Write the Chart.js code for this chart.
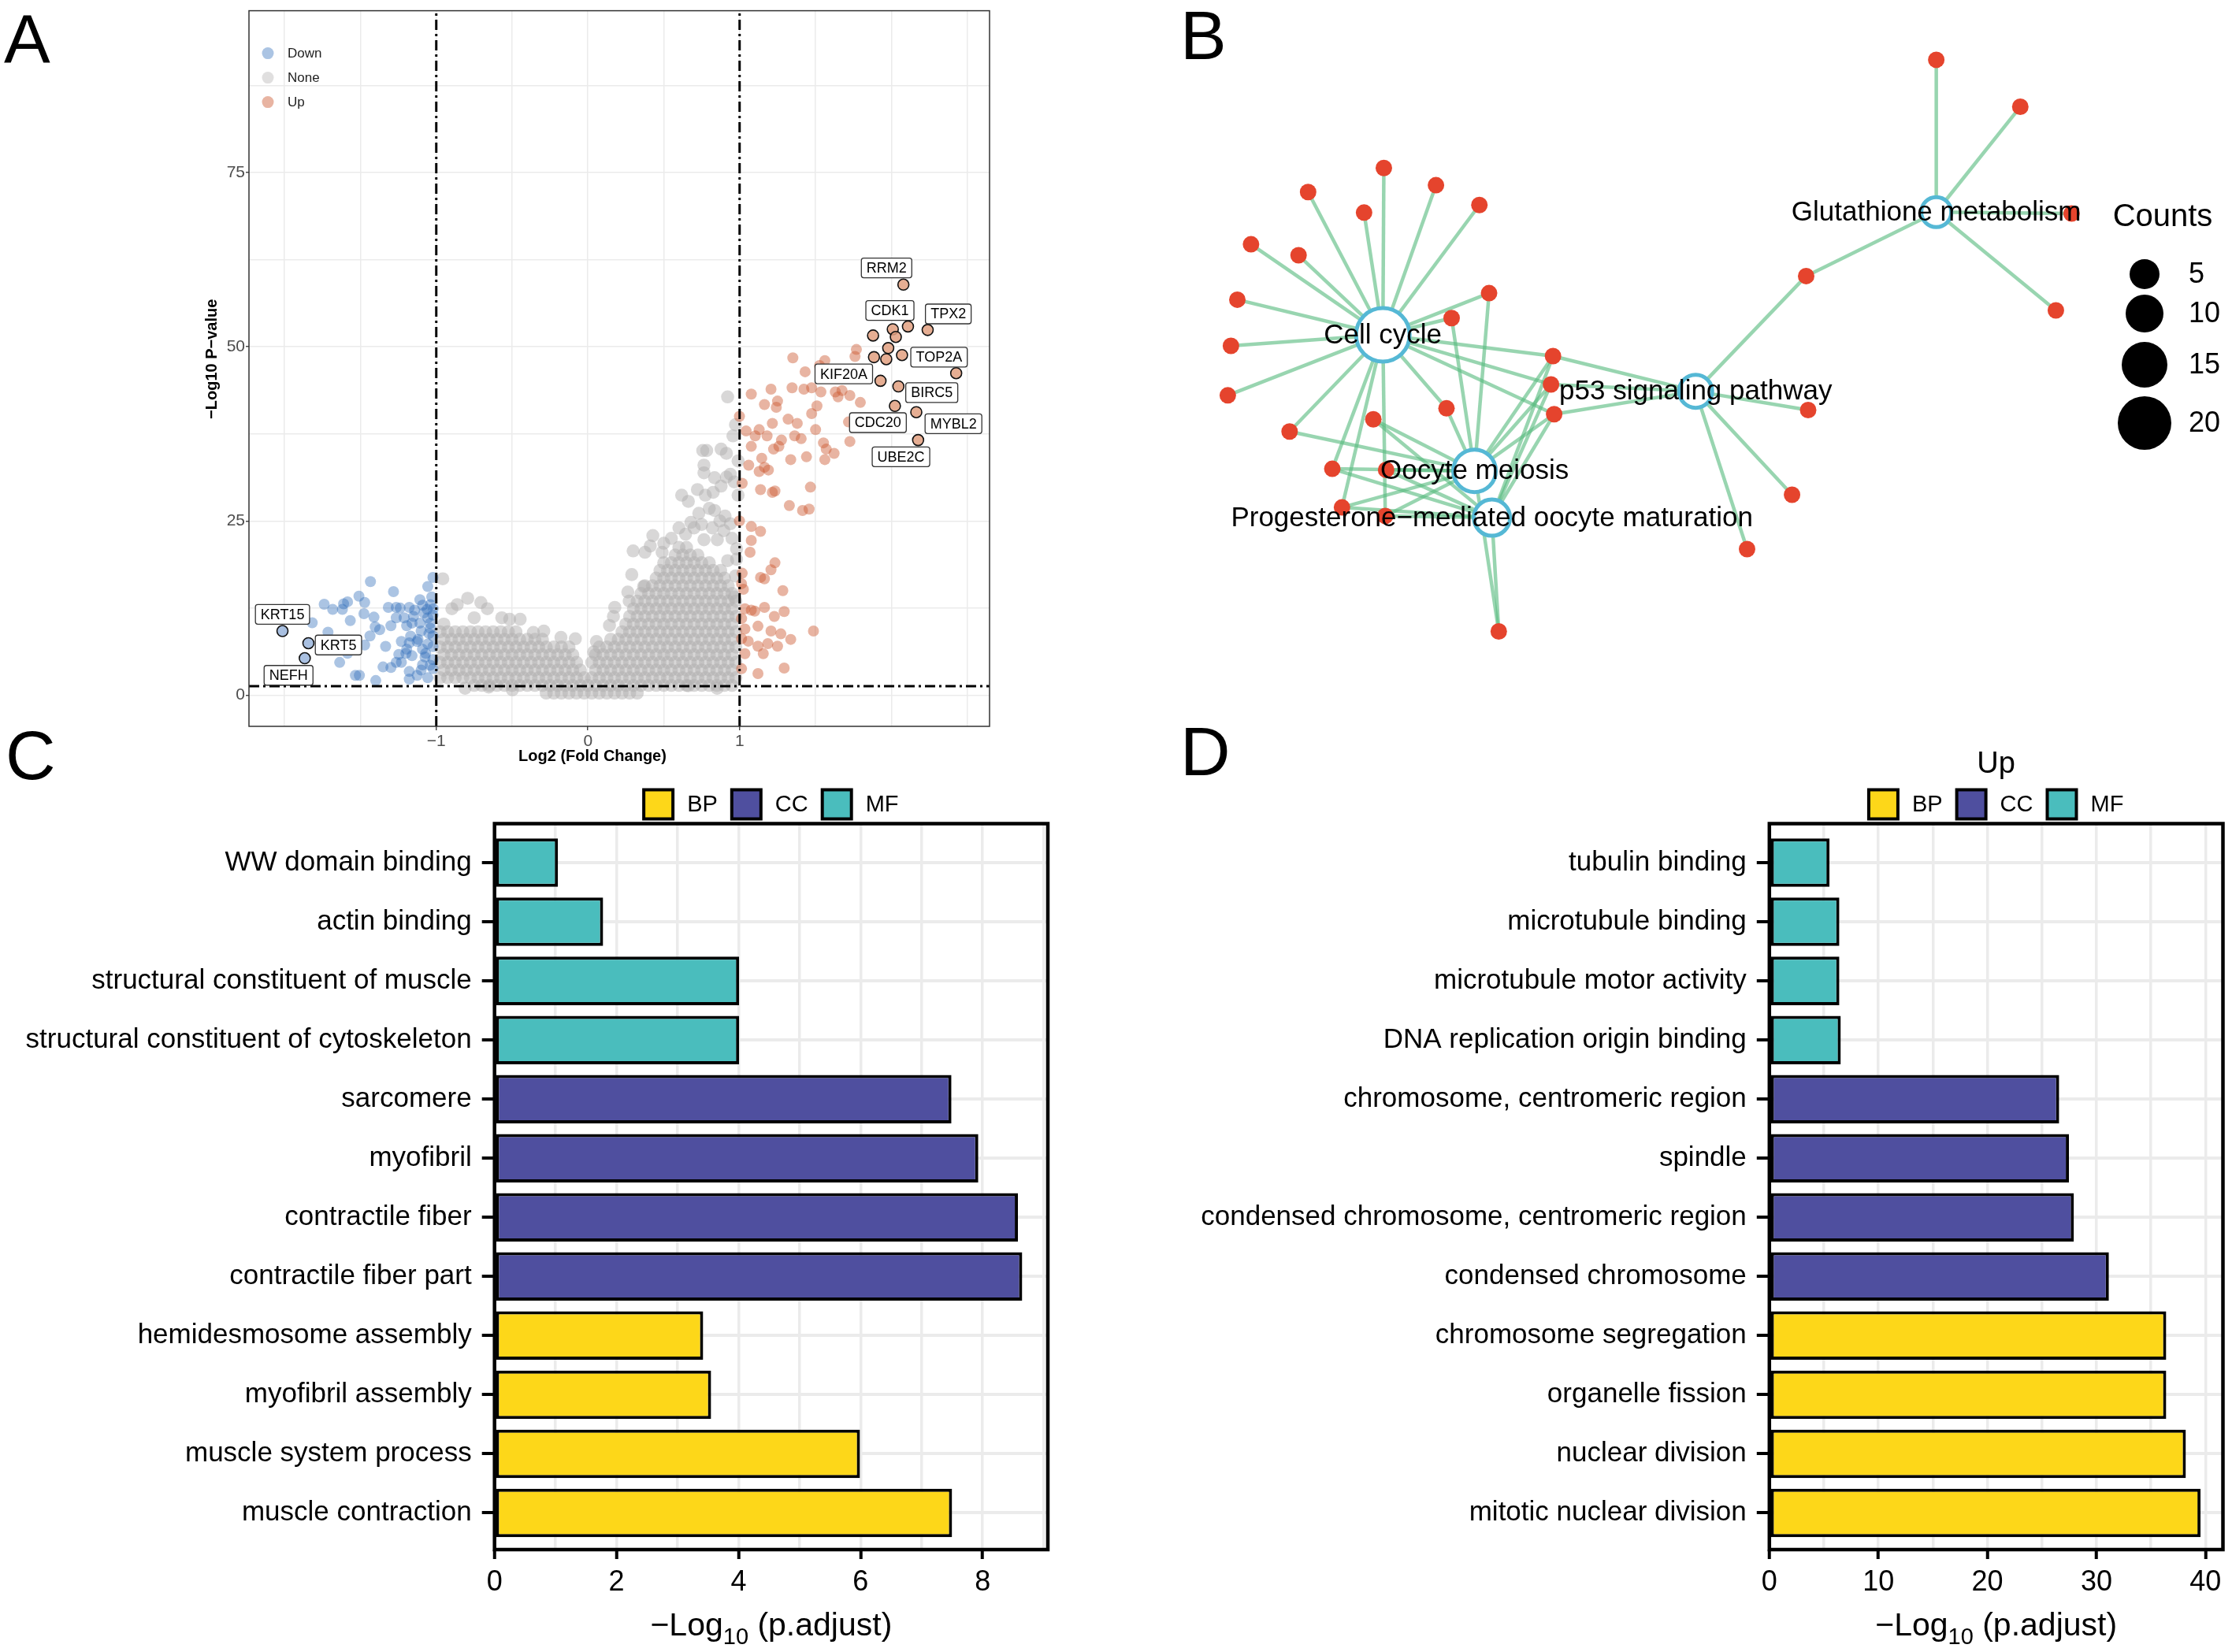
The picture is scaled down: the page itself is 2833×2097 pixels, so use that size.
<!DOCTYPE html>
<html lang="en">
<head>
<meta charset="UTF-8">
<title>Volcano plot, KEGG network and GO enrichment</title>
<script src="https://cdn.jsdelivr.net/npm/chart.js@4.4.0/dist/chart.umd.min.js"></script>
<style>
  html, body { margin: 0; padding: 0; background: #fff; }
  body { position: relative; width: 2833px; height: 2097px; overflow: hidden; font-family: "Liberation Sans", Arial, sans-serif; }
  .panel { position: absolute; }
  .tag { position: absolute; font-size: 88px; line-height: 1; color: #000; z-index: 2; }
</style>
</head>
<body>
<div class="tag" style="left:5px;top:6px">A</div>
<div class="tag" style="left:1498px;top:1px">B</div>
<div class="tag" style="left:7px;top:915px">C</div>
<div class="tag" style="left:1498px;top:910px">D</div>

<div class="panel" style="left:230px;top:0;width:1050px;height:1000px"><canvas id="volcano"></canvas></div>
<div class="panel" style="left:1500px;top:0;width:1333px;height:900px"><canvas id="network"></canvas></div>
<div class="panel" style="left:0;top:940px;width:1345px;height:1157px"><canvas id="goDown"></canvas></div>
<div class="panel" style="left:1500px;top:940px;width:1333px;height:1157px"><canvas id="goUp"></canvas></div>

<script>
// ---------- A: volcano (x = log2 fold change, y = -log10 p) ----------
const fcCut = 1;
const pCut = 1.3;

const upTopGenes = [[2.08,58.9],[2.11,52.9],[2.01,52.5],[2.24,52.4],[1.88,51.6],[2.03,51.4],[1.98,49.8],
  [1.886,48.5],[1.967,48.2],[2.071,48.8],[2.428,46.2],[1.929,45.1],[2.047,44.3],[2.024,41.5],[2.165,40.6],[2.177,36.6]];
const downTopGenes = [[-2.014,9.2],[-1.843,7.46],[-1.867,5.3]];

const upGenes = [[1.351,48.4],[1.770,49.6],[1.761,48.6],[1.432,46.4],[1.562,48.0],[1.527,47.3],[1.207,43.9],[1.077,43.2],
  [1.346,44.1],[1.424,43.9],[1.475,44.1],[1.536,43.5],[1.631,43.5],[1.675,43.7],[1.727,43.0],[1.796,42.0],[1.649,42.8],
  [1.164,41.7],[1.250,42.2],[1.242,41.3],[1.510,41.5],[1.475,40.4],[1.320,39.6],[1.380,39.0],[1.216,39.0],[1.129,38.1],
  [1.043,37.9],[0.999,40.0],[1.103,37.2],[1.181,37.2],[1.276,36.6],[1.363,37.2],[1.406,36.8],[1.501,38.1],[1.718,39.2],
  [1.727,36.4],[1.077,35.7],[1.146,34.0],[1.224,35.3],[1.259,35.7],[1.553,36.2],[1.571,35.3],[1.623,34.7],[1.562,33.8],
  [1.337,33.8],[1.441,34.2],[1.060,33.0],[1.164,32.7],[1.190,32.3],[1.129,32.1],[1.017,30.4],[1.138,29.5],[1.216,29.1],
  [1.233,29.3],[1.467,29.85],[1.328,27.2],[1.415,26.5],[1.458,26.7],[0.999,25.0],[1.077,24.2],[1.138,23.5],[1.077,22.2],
  [1.069,20.5],[1.233,19.0],[1.207,18.0],[1.138,16.9],[1.164,16.7],[1.285,15.0],[1.017,17.5],[1.025,15.2],[1.077,12.2],
  [1.164,12.6],[1.294,12.0],[1.035,12.4],[1.100,12.05],[1.229,11.3],[1.035,9.5],[1.121,9.9],[1.207,9.2],[1.272,8.8],
  [1.337,8.0],[1.057,7.75],[1.121,7.03],[1.186,7.4],[1.25,7.03],[1.035,5.95],[1.156,5.95],[1.013,3.8],[1.121,3.1],
  [1.294,3.9],[1.487,9.2],[1.013,8.1],[1.013,11.0],[1.013,16.0]];

const downGenes = [[-1.434,16.3],[-1.818,10.4],[-1.739,13.05],[-1.683,12.3],[-1.611,13.1],[-1.585,13.4],[-1.619,12.3],
  [-1.510,14.2],[-1.472,13.3],[-1.567,10.7],[-1.714,9.04],[-1.477,11.7],[-1.411,11.2],[-1.403,9.8],[-1.437,8.5],
  [-1.373,9.4],[-1.334,7.0],[-1.472,7.2],[-1.541,6.6],[-1.585,6.0],[-1.637,4.7],[-1.533,2.85],[-1.507,2.85],[-1.399,2.1],
  [-1.351,4.05],[-1.282,14.85],[-1.264,12.6],[-1.316,12.6],[-1.238,12.5],[-1.264,11.1],[-1.299,9.97],[-1.212,11.1],
  [-1.178,12.6],[-1.143,12.2],[-1.108,13.7],[-1.082,11.8],[-1.056,15.6],[-1.022,16.9],[-1.030,14.1],[-1.039,13.0],
  [-1.195,9.97],[-1.160,10.35],[-1.108,10.35],[-1.056,11.1],[-1.022,11.5],[-1.100,9.2],[-1.039,9.6],[-1.022,8.5],
  [-1.230,7.7],[-1.178,7.5],[-1.126,7.7],[-1.195,6.6],[-1.247,5.85],[-1.264,4.72],[-1.230,4.72],[-1.160,5.66],
  [-1.091,6.6],[-1.056,7.35],[-1.022,6.97],[-1.074,5.47],[-1.091,4.35],[-1.022,5.1],[-1.178,3.4],[-1.126,2.85],
  [-1.178,2.3],[-1.056,2.5],[-1.022,3.8],[-1.299,3.97],[-1.048,8.85],[-1.169,8.47],[-1.06,12.3],[-1.12,8.0],
  [-1.04,10.3],[-1.09,12.9],[-1.15,11.3],[-1.02,12.4],[-1.07,6.0],[-1.04,4.3],[-1.10,3.6],[-1.2,6.0]];

// the dense grey cloud
const noneRowY = [0.3, 1.4, 2.5, 3.6, 4.7, 5.8, 6.9, 8.0, 9.1, 10.2, 11.3, 12.4, 13.5, 14.6, 15.7, 16.8, 17.9, 19.0, 20.1, 21.2];
const noneRowX = [
  [-.275,-.225,-.175,-.125,-.075,-.025,.025,.075,.125,.175,.225,.275,.325],
  [-.75,-.7,-.65,-.6,-.55,-.5,-.45,-.4,-.35,-.3,-.25,-.2,-.15,-.1,-.05,0,.05,.1,.15,.2,.25,.3,.35,.4,.45,.5,.55,.6,.65,.7,.75,.8,.85,.9,.95],
  [-.975,-.925,-.875,-.825,-.775,-.725,-.675,-.625,-.575,-.525,-.475,-.425,-.375,-.325,-.275,-.225,-.175,-.125,-.075,-.025,.025,.075,.125,.175,.225,.275,.325,.375,.425,.475,.525,.575,.625,.675,.725,.775,.825,.875,.925,.975],
  [-.95,-.9,-.85,-.8,-.75,-.7,-.65,-.6,-.55,-.5,-.45,-.4,-.35,-.3,-.25,-.2,-.15,-.1,-.05,.05,.1,.15,.2,.25,.3,.35,.4,.45,.5,.55,.6,.65,.7,.75,.8,.85,.9,.95],
  [-.975,-.925,-.875,-.825,-.775,-.725,-.675,-.625,-.575,-.525,-.475,-.425,-.375,-.325,-.275,-.225,-.175,-.125,-.075,.025,.075,.125,.175,.225,.275,.325,.375,.425,.475,.525,.575,.625,.675,.725,.775,.825,.875,.925,.975],
  [-.95,-.9,-.85,-.8,-.75,-.7,-.65,-.6,-.55,-.5,-.45,-.4,-.35,-.3,-.25,-.2,-.15,-.1,.05,.1,.15,.2,.25,.3,.35,.4,.45,.5,.55,.6,.65,.7,.75,.8,.85,.9,.95],
  [-.975,-.925,-.875,-.825,-.775,-.725,-.675,-.625,-.575,-.525,-.475,-.425,-.375,-.325,-.275,-.225,-.175,-.125,.075,.125,.175,.225,.275,.325,.375,.425,.475,.525,.575,.625,.675,.725,.775,.825,.875,.925,.975],
  [-.95,-.9,-.85,-.8,-.75,-.7,-.65,-.6,-.55,-.5,-.45,-.4,-.35,-.3,.15,.2,.25,.3,.35,.4,.45,.5,.55,.6,.65,.7,.75,.8,.85,.9,.95],
  [-.975,-.925,-.875,-.825,-.775,-.725,-.675,-.625,-.575,-.525,-.475,.225,.275,.325,.375,.425,.475,.525,.575,.625,.675,.725,.775,.825,.875,.925,.975],
  [-.95,.25,.3,.35,.4,.45,.5,.55,.6,.65,.7,.75,.8,.85,.9,.95],
  [.275,.325,.375,.425,.475,.525,.575,.625,.675,.725,.775,.825,.875,.925,.975],
  [.3,.35,.4,.45,.5,.55,.6,.65,.7,.75,.8,.85,.9,.95],
  [.325,.375,.425,.475,.525,.575,.625,.675,.725,.775,.825,.875,.925,.975],
  [.35,.4,.45,.5,.55,.6,.65,.7,.75,.8,.85,.9,.95],
  [.375,.425,.475,.525,.575,.625,.675,.725,.775,.825,.875,.925],
  [.45,.5,.55,.6,.65,.7,.75,.8,.85,.9],
  [.475,.525,.575,.625,.675,.725,.775,.825,.875],
  [.5,.55,.6,.65,.7,.75,.8],
  [.575,.625,.675,.725],
  [.6,.65]
];
const noneSparse = [[0.921,42.8],[0.973,38.8],[0.956,37.2],[0.757,35.1],[0.783,35.1],[0.878,35.3],[0.913,34.7],[0.765,33.0],
  [0.765,31.9],[0.835,31.2],[0.913,31.3],[0.965,30.6],[0.878,30.0],[0.722,29.5],[0.618,28.7],[0.662,27.8],[0.774,28.7],
  [0.826,29.1],[0.800,26.8],[0.731,26.1],[0.835,26.5],[0.904,25.7],[0.939,24.6],[0.896,23.6],[0.853,22.3],[0.765,22.3],
  [0.679,24.8],[0.644,23.1],[0.428,22.9],[0.411,21.4],[0.298,20.7],[0.376,20.5],[0.489,20.5],[0.289,17.3],[0.263,14.8],
  [0.367,15.6],[0.177,12.6],[0.272,13.5],[0.168,11.3],[0.142,10.0],[0.056,7.7],[0.038,6.2],[0.990,33.6],[0.939,31.7],
  [0.990,28.7],[0.921,19.3],[0.973,17.1],[0.965,14.1],[0.70,24.0],[0.75,24.5],[0.82,24.0],[0.87,25.0],[0.95,22.5],
  [0.98,21.0],[0.98,19.5],[0.60,24.0],[0.55,22.5],[0.50,21.8],
  [-0.957,16.7],[-0.793,13.9],[-0.706,13.3],[-0.663,12.4],[-0.862,13.0],[-0.568,11.1],[-0.516,10.9],[-0.447,10.9],
  [-0.360,9.0],[-0.291,9.2],[-0.178,8.3],[-0.083,8.1],[-0.750,11.1],[-0.897,12.4],[-0.810,1.0],[-0.654,1.16],
  [-0.498,0.78],[0.852,1.0],[0.662,1.35]];

const labelNames = ['RRM2','CDK1','TPX2','TOP2A','KIF20A','BIRC5','CDC20','MYBL2','UBE2C','KRT15','KRT5','NEFH'];
const labelX = [1.969,1.991,2.376,2.315,1.687,2.267,1.912,2.41,2.064,-2.014,-1.645,-1.974];
const labelY = [61.3,55.2,54.7,48.5,46.1,43.4,39.1,38.95,34.2,11.6,7.2,2.85];

const fcGrid = [-2,-1.5,-1,-0.5,0,0.5,1,1.5,2,2.5];
const fcTicks = [-1,0,1];
const pGrid = [0,12.5,25,37.5,50,62.5,75,87.5];
const pTicks = [0,25,50,75];

// ---------- B: pathway / gene network (layout units) ----------
const pathways = ['Cell cycle','Oocyte meiosis','Progesterone\u2212mediated oocyte maturation','p53 signaling pathway','Glutathione metabolism'];
const pathwayX = [12.13,18.57,19.79,34.1,51.0];
const pathwayY = [21.48,11.93,8.64,17.52,30.1];
const geneX = [51.0,56.9,60.5,59.4,41.86,42.0,40.87,37.71,12.2,6.88,15.86,10.81,18.91,2.87,6.21,1.91,19.59,16.96,1.46,1.24,
  24.08,23.94,24.16,16.6,11.46,5.58,8.58,12.36,9.26,12.3,20.27];
const geneY = [40.8,37.5,30.0,23.2,25.61,16.2,10.25,6.43,33.2,31.51,31.99,30.07,30.6,27.84,27.07,23.95,24.41,22.66,20.71,17.23,
  19.99,18.0,15.91,16.32,15.55,14.69,12.07,12.0,9.36,8.76,0.65];
const geneLinks = [[4],[4],[4],[4],[4,3],[3],[3],[3],[0],[0],[0],[0],[0],[0],[0],[0],[0,1],[0,1],[0],[0],
  [0,3,1,2],[0,3,1,2],[0,3,1,2],[0,1],[1,2],[0,1],[0,1,2],[1,2],[0,1,2],[0,1,2],[1,2]];
const countSteps = [5,10,15,20];

// ---------- C / D: GO enrichment ----------
const goClasses = ['BP','CC','MF'];
const goColors = ['#FDD719','#4F4F9F','#4ABDBD'];

const downTerms = ['WW domain binding','actin binding','structural constituent of muscle','structural constituent of cytoskeleton',
  'sarcomere','myofibril','contractile fiber','contractile fiber part','hemidesmosome assembly','myofibril assembly',
  'muscle system process','muscle contraction'];
const downClass = ['MF','MF','MF','MF','CC','CC','CC','CC','BP','BP','BP','BP'];
const downValue = [1.04,1.78,4.01,4.01,7.49,7.93,8.58,8.65,3.42,3.55,5.99,7.50];

const upTerms = ['tubulin binding','microtubule binding','microtubule motor activity','DNA replication origin binding',
  'chromosome, centromeric region','spindle','condensed chromosome, centromeric region','condensed chromosome',
  'chromosome segregation','organelle fission','nuclear division','mitotic nuclear division'];
const upClass = ['MF','MF','MF','MF','CC','CC','CC','CC','BP','BP','BP','BP'];
const upValue = [5.52,6.42,6.42,6.55,26.58,27.48,27.93,31.14,36.4,36.4,38.2,39.55];

const downGrid = [0,1,2,3,4,5,6,7,8,9];
const downLabels = [0,2,4,6,8];
const upGrid = [0,5,10,15,20,25,30,35,40];
const upLabels = [0,10,20,30,40];

// ---------------------------------------------------------------
const FONT = '"Liberation Sans", Arial, sans-serif';
Chart.defaults.font.family = FONT;
Chart.defaults.color = '#000';
Chart.defaults.animation = false;
Chart.defaults.events = [];

Chart.register({
  id: 'frame',
  defaults: { width: 0, color: '#000' },
  afterDatasetsDraw(chart, args, opts) {
    if (!opts.width) return;
    const a = chart.chartArea, ctx = chart.ctx;
    ctx.save();
    ctx.strokeStyle = opts.color;
    ctx.lineWidth = opts.width;
    ctx.strokeRect(a.left, a.top, a.right - a.left, a.bottom - a.top);
    ctx.restore();
  }
});

const pts = arr => arr.map(p => ({ x: p[0], y: p[1] }));
const same = (list, v) => list.some(t => Math.abs(t - v) < 1e-9);
const fmtMinus = v => (v < 0 ? '\u2212' + Math.abs(v) : String(v));

const upFill = 'rgba(205,88,48,0.45)';
const downFill = 'rgba(44,108,184,0.4)';
const noneFill = 'rgba(178,176,176,0.5)';

const noneGenes = noneRowY.flatMap((y, r) => noneRowX[r].map(x => [x, y])).concat(noneSparse);

function cutLine(data) {
  return { data, showLine: true, borderColor: '#000', borderWidth: 3, borderDash: [13, 5, 3, 5], pointRadius: 0, order: -1 };
}

const volcanoText = {
  id: 'volcanoText',
  afterDraw(chart) {
    const ctx = chart.ctx, xs = chart.scales.x, ys = chart.scales.y, a = chart.chartArea;
    ctx.save();
    ctx.font = '18px ' + FONT;
    ctx.textAlign = 'center';
    ctx.textBaseline = 'middle';
    labelNames.forEach((name, i) => {
      const cx = xs.getPixelForValue(labelX[i]), cy = ys.getPixelForValue(labelY[i]);
      const w = ctx.measureText(name).width + 13, h = 25;
      ctx.beginPath();
      if (ctx.roundRect) ctx.roundRect(cx - w / 2, cy - h / 2, w, h, 3); else ctx.rect(cx - w / 2, cy - h / 2, w, h);
      ctx.fillStyle = '#fff';
      ctx.fill();
      ctx.lineWidth = 1.3;
      ctx.strokeStyle = '#333';
      ctx.stroke();
      ctx.fillStyle = '#000';
      ctx.fillText(name, cx, cy + 1);
    });
    // legend inside the panel
    [['Down', downFill], ['None', 'rgba(178,176,176,0.4)'], ['Up', upFill]].forEach(([t, c], i) => {
      const y = a.top + 54 + 31 * i;
      ctx.beginPath();
      ctx.arc(a.left + 24, y, 7.5, 0, 2 * Math.PI);
      ctx.fillStyle = c;
      ctx.fill();
      ctx.fillStyle = '#222';
      ctx.textAlign = 'left';
      ctx.font = '17px ' + FONT;
      ctx.fillText(t, a.left + 49, y + 1);
    });
    // axis titles
    ctx.fillStyle = '#000';
    ctx.textAlign = 'center';
    ctx.font = 'bold 20px ' + FONT;
    ctx.fillText('Log2 (Fold Change)', (a.left + a.right) / 2 - 34, a.bottom + 38);
    ctx.translate(39.5, (a.top + a.bottom) / 2 - 12);
    ctx.rotate(-Math.PI / 2);
    ctx.fillText('\u2212Log10 P\u2212value', 0, 0);
    ctx.restore();
  }
};

new Chart(document.getElementById('volcano'), {
  type: 'scatter',
  data: {
    datasets: [
      cutLine([{ x: -2.235, y: pCut }, { x: 2.648, y: pCut }]),
      cutLine([{ x: -fcCut, y: -4.47 }, { x: -fcCut, y: 98.2 }]),
      cutLine([{ x: fcCut, y: -4.47 }, { x: fcCut, y: 98.2 }]),
      { label: 'Up top', data: pts(upTopGenes), backgroundColor: 'rgba(226,160,128,0.85)', borderColor: '#111', borderWidth: 1.6, pointRadius: 7, order: 0 },
      { label: 'Down top', data: pts(downTopGenes), backgroundColor: 'rgba(160,185,222,0.9)', borderColor: '#111', borderWidth: 1.6, pointRadius: 7, order: 0 },
      { label: 'Up', data: pts(upGenes), backgroundColor: upFill, borderWidth: 0, pointRadius: 7, order: 1 },
      { label: 'Down', data: pts(downGenes), backgroundColor: downFill, borderWidth: 0, pointRadius: 7, order: 2 },
      { label: 'None', data: pts(noneGenes), backgroundColor: noneFill, borderWidth: 0, pointRadius: 8.3, order: 3 }
    ]
  },
  options: {
    responsive: true,
    maintainAspectRatio: false,
    layout: { autoPadding: false, padding: { top: 9, right: 24, left: 0, bottom: 0 } },
    plugins: { legend: { display: false }, tooltip: { enabled: false }, frame: { width: 1.5, color: '#333' } },
    scales: {
      x: {
        type: 'linear', min: -2.235, max: 2.648,
        afterBuildTicks: s => { s.ticks = fcGrid.map(v => ({ value: v })); },
        afterFit: s => { s.height = 78; },
        ticks: { callback: v => (same(fcTicks, v) ? fmtMinus(v) : ''), autoSkip: false, maxRotation: 0, padding: 2, color: '#4D4D4D', font: { size: 21 } },
        grid: { color: '#EBEBEB', lineWidth: 1.5, tickLength: 5, tickWidth: 1.3,
          tickColor: c => (c.tick && same(fcTicks, c.tick.value) ? '#333' : 'rgba(0,0,0,0)') },
        border: { display: false }
      },
      y: {
        type: 'linear', min: -4.47, max: 98.2,
        afterBuildTicks: s => { s.ticks = pGrid.map(v => ({ value: v })); },
        afterFit: s => { s.width = 86; },
        ticks: { callback: v => (same(pTicks, v) ? String(v) : ''), autoSkip: false, padding: 1, color: '#4D4D4D', font: { size: 21 } },
        grid: { color: '#EBEBEB', lineWidth: 1.5, tickLength: 4, tickWidth: 1.3,
          tickColor: c => (c.tick && same(pTicks, c.tick.value) ? '#333' : 'rgba(0,0,0,0)') },
        border: { display: false }
      }
    }
  },
  plugins: [volcanoText]
});

// ---------- B ----------
const pathwayCounts = pathways.map((_, p) => geneLinks.filter(l => l.includes(p)).length);
const nodeRadius = n => 14 + n;
const edgeSets = [];
geneLinks.forEach((links, g) => links.forEach(p => edgeSets.push({
  data: [{ x: geneX[g], y: geneY[g] }, { x: pathwayX[p], y: pathwayY[p] }],
  showLine: true, borderColor: 'rgba(88,188,128,0.62)', borderWidth: 4.5, pointRadius: 0, order: 3
})));

const networkText = {
  id: 'networkText',
  afterDatasetsDraw(chart) {
    const ctx = chart.ctx, xs = chart.scales.x, ys = chart.scales.y;
    ctx.save();
    ctx.fillStyle = '#000';
    ctx.textAlign = 'center';
    ctx.textBaseline = 'middle';
    ctx.font = '35px ' + FONT;
    pathways.forEach((name, i) => {
      ctx.fillText(name, xs.getPixelForValue(pathwayX[i]), ys.getPixelForValue(pathwayY[i]) + 1);
    });
    ctx.font = '40px ' + FONT;
    ctx.fillText('Counts', 1245, 276);
    const rowY = [348, 398, 463, 537];
    countSteps.forEach((n, i) => {
      ctx.beginPath();
      ctx.arc(1222, rowY[i], nodeRadius(n), 0, 2 * Math.PI);
      ctx.fillStyle = '#000';
      ctx.fill();
      ctx.textAlign = 'left';
      ctx.font = '36px ' + FONT;
      ctx.fillText(String(n), 1278, rowY[i] + 1);
    });
    ctx.restore();
  }
};

new Chart(document.getElementById('network'), {
  type: 'scatter',
  data: {
    datasets: edgeSets.concat([
      { label: 'genes', data: geneX.map((x, i) => ({ x, y: geneY[i] })), backgroundColor: '#E5442D', borderWidth: 0, pointRadius: 10.5, order: 2 },
      { label: 'pathways', data: pathwayX.map((x, i) => ({ x, y: pathwayY[i] })), backgroundColor: '#fff',
        borderColor: '#55B8D5', borderWidth: 5, pointRadius: pathwayCounts.map(nodeRadius), order: 1 }
    ])
  },
  options: {
    responsive: true,
    maintainAspectRatio: false,
    layout: { autoPadding: false, padding: 0 },
    plugins: { legend: { display: false }, tooltip: { enabled: false } },
    scales: {
      x: { type: 'linear', display: false, min: -1.992, max: 71.77 },
      y: { type: 'linear', display: false, min: -4.80, max: 45.0 }
    }
  },
  plugins: [networkText]
});

// ---------- C / D ----------
function drawLogTitle(ctx, cx, baseY) {
  const parts = [['\u2212Log', 41, 0], ['10', 29, 11], [' (p.adjust)', 41, 0]];
  let total = 0;
  parts.forEach(p => { ctx.font = p[1] + 'px ' + FONT; total += ctx.measureText(p[0]).width; });
  let x = cx - total / 2;
  ctx.textAlign = 'left';
  ctx.textBaseline = 'alphabetic';
  parts.forEach(p => {
    ctx.font = p[1] + 'px ' + FONT;
    ctx.fillText(p[0], x, baseY + p[2]);
    x += ctx.measureText(p[0]).width;
  });
}

function goChart(id, terms, classes, values, xMax, grid, labels, heading, yWidth, padRight) {
  const datasets = goClasses.map((cls, k) => ({
    label: cls,
    data: terms.map((t, i) => (classes[i] === cls ? { x: values[i], y: i } : null)).filter(Boolean),
    backgroundColor: goColors[k],
    borderColor: '#000',
    borderWidth: 4,
    borderSkipped: false,
    barPercentage: 0.82,
    categoryPercentage: 1,
    grouped: false
  }));
  const goText = {
    id: 'goText',
    afterDraw(chart) {
      const ctx = chart.ctx, a = chart.chartArea;
      ctx.save();
      ctx.fillStyle = '#000';
      // legend
      ctx.font = '29px ' + FONT;
      const box = 37, gapIn = 18, gapOut = 18;
      const widths = goClasses.map(c => ctx.measureText(c).width);
      const total = widths.reduce((s, w) => s + w + box + gapIn, 0) + gapOut * (goClasses.length - 1);
      let x = (a.left + a.right) / 2 - total / 2;
      const cy = a.top - 24.5;
      goClasses.forEach((c, k) => {
        ctx.fillStyle = goColors[k];
        ctx.fillRect(x, cy - box / 2, box, box);
        ctx.lineWidth = 4;
        ctx.strokeStyle = '#000';
        ctx.strokeRect(x, cy - box / 2, box, box);
        ctx.fillStyle = '#000';
        ctx.textAlign = 'left';
        ctx.textBaseline = 'middle';
        ctx.fillText(c, x + box + gapIn, cy + 1);
        x += box + gapIn + widths[k] + gapOut;
      });
      if (heading) {
        ctx.font = '38px ' + FONT;
        ctx.textAlign = 'center';
        ctx.textBaseline = 'middle';
        ctx.fillText(heading, (a.left + a.right) / 2, a.top - 74.5);
      }
      drawLogTitle(ctx, (a.left + a.right) / 2, a.bottom + 109);
      ctx.restore();
    }
  };
  return new Chart(document.getElementById(id), {
    type: 'bar',
    data: { datasets },
    options: {
      indexAxis: 'y',
      responsive: true,
      maintainAspectRatio: false,
      layout: { autoPadding: false, padding: { top: 105.5, right: padRight, left: 0, bottom: 0 } },
      plugins: { legend: { display: false }, tooltip: { enabled: false }, frame: { width: 4.5, color: '#000' } },
      scales: {
        x: {
          type: 'linear', min: 0, max: xMax, offset: false,
          afterBuildTicks: s => { s.ticks = grid.map(v => ({ value: v })); },
          afterFit: s => { s.height = 130; },
          ticks: { callback: v => (same(labels, v) ? String(v) : ''), autoSkip: false, maxRotation: 0, padding: 8, color: '#000', font: { size: 36 } },
          grid: { offset: false, color: '#EBEBEB', lineWidth: 3.5, tickLength: 12, tickWidth: 4,
            tickColor: c => (c.tick && same(labels, c.tick.value) ? '#000' : 'rgba(0,0,0,0)') },
          border: { display: false }
        },
        y: {
          type: 'linear', reverse: true, min: -0.66, max: terms.length - 0.38, offset: false,
          afterBuildTicks: s => { s.ticks = terms.map((t, i) => ({ value: i })); },
          afterFit: s => { s.width = yWidth; },
          ticks: { callback: v => terms[v] || '', autoSkip: false, padding: 13, color: '#000', font: { size: 35 } },
          grid: { offset: false, color: '#EBEBEB', lineWidth: 4, tickLength: 16, tickWidth: 4, tickColor: '#000' },
          border: { display: false }
        }
      }
    },
    plugins: [goText]
  });
}

goChart('goDown', downTerms, downClass, downValue, 9.07, downGrid, downLabels, '', 627.7, 15);
goChart('goUp', upTerms, upClass, upValue, 41.6, upGrid, upLabels, 'Up', 745.8, 11.5);
</script>
</body>
</html>
